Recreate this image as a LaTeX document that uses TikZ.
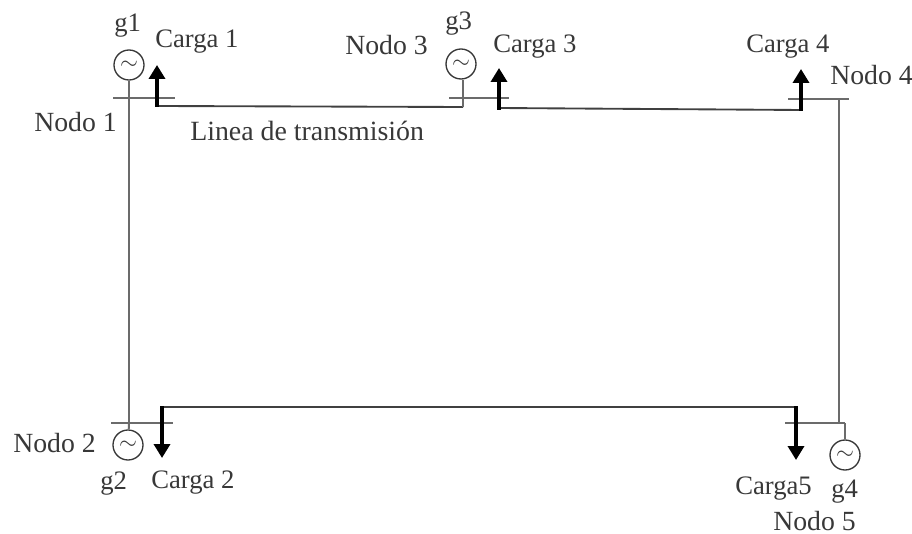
\documentclass[tikz,border=0pt]{standalone}
\usepackage{fontspec}
\setmainfont{Liberation Serif}
\usetikzlibrary{arrows.meta}
\definecolor{ink}{gray}{0.22}
\definecolor{wire}{gray}{0.42}
\tikzset{
  x=0.75pt,y=-0.75pt,
  lbl/.style={inner sep=0pt,text=ink,font=\fontsize{20}{22}\selectfont,anchor=base west},
  nodelbl/.style={lbl,font=\fontsize{20.8}{22}\selectfont},
  gen/.style={circle,draw=ink,line width=1pt,minimum size=22.5pt,inner sep=0pt,fill=white,font=\fontsize{17}{17}\selectfont,text=ink},
  bus/.style={draw=wire,line width=1.5pt},
  feeder/.style={draw=wire,line width=1.5pt},
  line/.style={draw=black!75,line width=1.4pt},
  load/.style={draw=black,line width=2.6pt,-{Triangle[length=10.5pt,width=12pt]}}
}
\begin{document}
\begin{tikzpicture}
\useasboundingbox (0,0) rectangle (912,534);
% generators
\node[gen] (g1) at (129,65) {$\sim$};
\node[gen] (g2) at (128,445) {$\sim$};
\node[gen] (g3) at (461,64) {$\sim$};
\node[gen] (g4) at (845,455) {$\sim$};
% bus bars
\coordinate (b1l) at (113,98); \coordinate (b1r) at (175,98);
\coordinate (b2l) at (111,423); \coordinate (b2r) at (173,423);
\coordinate (b3l) at (449,98); \coordinate (b3r) at (509,98);
\coordinate (b4l) at (788,99); \coordinate (b4r) at (849,99);
\coordinate (b5l) at (785,423); \coordinate (b5r) at (845,423);
\draw[bus] (b1l) -- (b1r);
\draw[bus] (b2l) -- (b2r);
\draw[bus] (b3l) -- (b3r);
\draw[bus] (b4l) -- (b4r);
\draw[bus] (b5l) -- (b5r);
% vertical feeders
\coordinate (v1) at (129,423);
\coordinate (v3) at (463,107);
\coordinate (v4t) at (839,99);
\coordinate (v4b) at (839,423);
\draw[feeder] (g1) -- (v1);
\draw[feeder] (v4t) -- (v4b);
\draw[feeder] (b5r) -- (g4);
\draw[feeder] (v1) -- (g2);
% transmission lines
\coordinate (l1) at (157,106);
\coordinate (l3) at (499,108);
\coordinate (l3e) at (801,110);
\coordinate (l2) at (162,407);
\coordinate (l5) at (796,407);
\draw[line] (l1) -- (v3);
\draw[feeder] (g3.south -| v3) -- (v3);
\draw[line] (l3) -- (l3e);
\draw[line] (l2) -- (l5);
% load arrows
\coordinate (a1) at (157,65);
\coordinate (a3) at (499,68);
\coordinate (a4) at (801,69);
\coordinate (a2) at (162,458);
\coordinate (a5) at (796,460);
\draw[load] (157,107) -- (a1);
\draw[load] (499,110) -- (a3);
\draw[load] (801,111) -- (a4);
\draw[load] (162,406) -- (a2);
\draw[load] (796,406) -- (a5);
% labels
\node[lbl] (tg1) at (114,32) {g1};
\node[lbl] (tg2) at (100,489) {g2};
\node[lbl] (tg3) at (445,30) {g3};
\node[lbl] (tg4) at (831,497) {g4};
\node[lbl] (tc1) at (155,48) {Carga 1};
\node[lbl] (tc2) at (151,488) {Carga 2};
\node[lbl] (tc3) at (493,53) {Carga 3};
\node[lbl] (tc4) at (746,53) {Carga 4};
\node[lbl] (tc5) at (735,494) {Carga5};
\node[nodelbl] (tn1) at (34,132) {Nodo 1};
\node[nodelbl] (tn2) at (13,452) {Nodo 2};
\node[nodelbl] (tn3) at (345,55) {Nodo 3};
\node[nodelbl] (tn4) at (830,85) {Nodo 4};
\node[nodelbl] (tn5) at (773,530) {Nodo 5};
\node[lbl,font=\fontsize{20.9}{22}\selectfont] (tl) at (190,141) {Linea de transmisión};
\end{tikzpicture}
\end{document}
